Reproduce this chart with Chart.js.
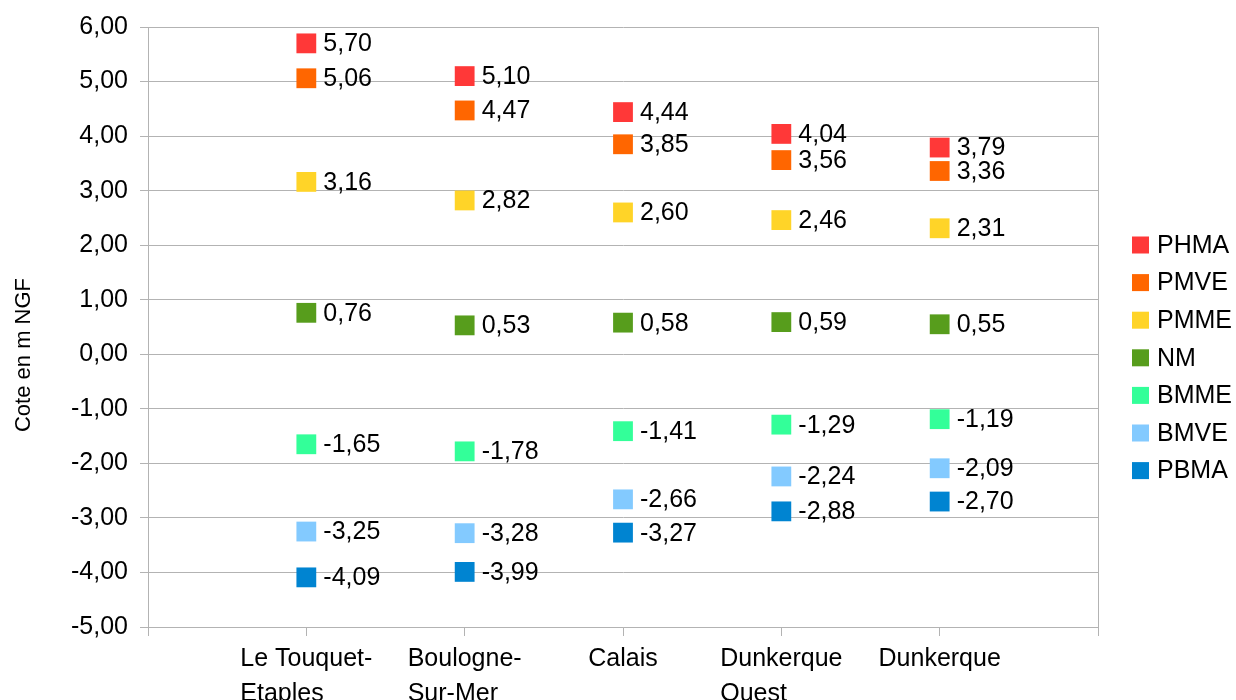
<!DOCTYPE html>
<html>
<head>
<meta charset="utf-8">
<script src="https://cdn.jsdelivr.net/npm/chart.js@4.4.1/dist/chart.umd.min.js"></script>
<style>
    html, body { margin: 0; padding: 0; overflow: hidden; background: #fff; }
    #wrap { width: 1236px; height: 730px; }
</style>
</head>
<body>
<div id="wrap"><canvas id="myChart"></canvas></div>
<script>
// categories sit on x = 1..5 of a 0..6 axis
const sites = [["Le Touquet-", "Etaples"], ["Boulogne-", "Sur-Mer"], ["Calais"], ["Dunkerque", "Ouest"], ["Dunkerque"]];
const seriesNames = ["PHMA", "PMVE", "PMME", "NM", "BMME", "BMVE", "PBMA"];
const seriesColors = ["#ff3838", "#ff6600", "#ffd428", "#579d1c", "#33ff99", "#83caff", "#0084d1"];
const yTitle = "Cote en m NGF";

const phma = [5.70, 5.10, 4.44, 4.04, 3.79];
const pmve = [5.06, 4.47, 3.85, 3.56, 3.36];
const pmme = [3.16, 2.82, 2.60, 2.46, 2.31];
const nm = [0.76, 0.53, 0.58, 0.59, 0.55];
const bmme = [-1.65, -1.78, -1.41, -1.29, -1.19];
const bmve = [-3.25, -3.28, -2.66, -2.24, -2.09];
const pbma = [-4.09, -3.99, -3.27, -2.88, -2.70];

const allValues = [phma, pmve, pmme, nm, bmme, bmve, pbma];

const fmt = v => v.toFixed(2).replace(".", ",");
const FONT = "'Liberation Sans', Arial, sans-serif";

// value label right of each marker
const valueLabels = {
    id: "valueLabels",
    afterDatasetsDraw(chart) {
        const ctx = chart.ctx;
        ctx.save();
        ctx.font = "25px " + FONT;
        ctx.fillStyle = "#000";
        ctx.textAlign = "left";
        ctx.textBaseline = "middle";
        chart.data.datasets.forEach((ds, i) => {
            chart.getDatasetMeta(i).data.forEach((pt, j) => {
                ctx.fillText(fmt(ds.data[j].y), pt.x + 17, pt.y + 1);
            });
        });
        ctx.restore();
    }
};

// category names (block centred on the tick, lines left aligned), legend, y title
const sideTexts = {
    id: "sideTexts",
    afterDraw(chart) {
        const ctx = chart.ctx;
        const xs = chart.scales.x;
        ctx.save();
        ctx.font = "25px " + FONT;
        ctx.fillStyle = "#000";
        ctx.textAlign = "left";
        ctx.textBaseline = "middle";
        sites.forEach((lines, j) => {
            const px = xs.getPixelForValue(j + 1);
            const w = Math.max(...lines.map(s => ctx.measureText(s).width));
            lines.forEach((s, k) => {
                ctx.fillText(s, px - w / 2, xs.top + 32 + k * 35);
            });
        });

        chart.data.datasets.forEach((ds, i) => {
            const y = 245 + i * 37.6;
            ctx.fillStyle = ds.backgroundColor;
            ctx.fillRect(1132, y - 8.5, 17, 17);
            ctx.fillStyle = "#000";
            ctx.fillText(ds.label, 1157, y + 1);
        });

        ctx.translate(24, 355);
        ctx.rotate(-Math.PI / 2);
        ctx.font = "22px " + FONT;
        ctx.textAlign = "center";
        ctx.fillText(yTitle, 0, 0);
        ctx.restore();
    }
};

const datasets = seriesNames.map((name, i) => ({
    label: name,
    data: allValues[i].map((v, j) => ({ x: j + 1, y: v })),
    backgroundColor: seriesColors[i],
    borderColor: seriesColors[i],
    borderWidth: 0,
    pointStyle: "rect",
    pointRadius: 14,
    pointHoverRadius: 14,
    showLine: false
}));

const ctx = document.getElementById("myChart").getContext("2d");
const myChart = new Chart(ctx, {
    type: "scatter",
    data: { datasets: datasets },
    options: {
        responsive: true,
        maintainAspectRatio: false,
        animation: false,
        layout: { padding: { top: 27, left: 8, right: 138, bottom: 0 } },
        scales: {
            x: {
                type: "linear",
                min: 0,
                max: 6,
                afterFit(scale) { scale.height = 103; },
                afterBuildTicks(scale) {
                    scale.ticks = [0, 1, 2, 3, 4, 5, 6].map(v => ({ value: v }));
                },
                grid: {
                    color: c => (c.tick && (c.tick.value === 0 || c.tick.value === 6)) ? "#b3b3b3" : "rgba(0,0,0,0)",
                    tickColor: "#b3b3b3",
                    tickLength: 9,
                    lineWidth: 1
                },
                border: { display: true, color: "#b3b3b3" },
                ticks: {
                    autoSkip: false,
                    maxRotation: 0,
                    callback: () => ""
                }
            },
            y: {
                min: -5,
                max: 6,
                afterFit(scale) { scale.width = 140; },
                ticks: {
                    stepSize: 1,
                    padding: 12,
                    color: "#000",
                    font: { family: FONT, size: 25 },
                    callback: v => fmt(v)
                },
                grid: { color: "#b3b3b3", tickColor: "#b3b3b3", tickLength: 8 },
                border: { display: true, color: "#b3b3b3" }
            }
        },
        plugins: {
            legend: { display: false },
            tooltip: { enabled: false }
        }
    },
    plugins: [valueLabels, sideTexts]
});
</script>
</body>
</html>
